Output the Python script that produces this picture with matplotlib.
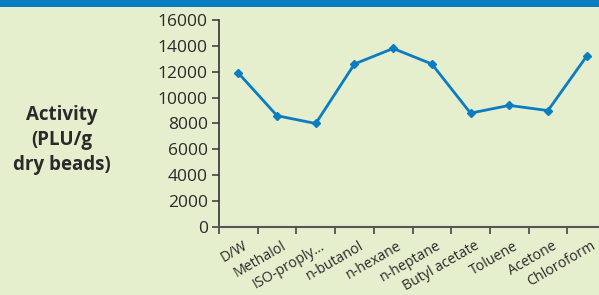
import matplotlib.pyplot as plt
from matplotlib.patches import Rectangle
from matplotlib.transforms import ScaledTranslation

solvents = ["D/W", "Methalol", "ISO-proply...", "n-butanol", "n-hexane",
            "n-heptane", "Butyl acetate", "Toluene", "Acetone", "Chloroform"]
activity = [11900, 8600, 8000, 12600, 13800, 12600, 8800, 9400, 9000, 13200]
yticks = [0, 2000, 4000, 6000, 8000, 10000, 12000, 14000, 16000]

plt.rcParams['font.family'] = ['Open Sans', 'DejaVu Sans']
bg = '#e5eecd'
blue = '#0a7cc1'
dark = '#2a2a2a'

fig = plt.figure(figsize=(5.99, 2.95), dpi=100)
fig.patch.set_facecolor(bg)
fig.patches.append(Rectangle((0, 1 - 7 / 295), 1, 7 / 295, transform=fig.transFigure,
                             facecolor=blue, edgecolor='none'))

ax = fig.add_axes([219 / 599, 1 - 227 / 295, (606 - 219) / 599, (227 - 20) / 295])
ax.set_facecolor(bg)

x = [i + 0.5 for i in range(len(solvents))]
ax.plot(x, activity, color=blue, lw=2, marker='D', ms=4.5, clip_on=False)

ax.set_xlim(0, 10)
ax.set_ylim(0, 16000)
ax.set_yticks(yticks)
ax.set_yticklabels([str(v) for v in yticks], fontsize=12.5, color=dark)

ax.set_xticks(x)
ax.set_xticklabels(solvents, rotation=30, ha='right', rotation_mode='anchor',
                   fontsize=10.2, color=dark)
ax.tick_params(axis='x', which='major', length=0, pad=9)
shift = ScaledTranslation(4 / 100, 1 / 100, fig.dpi_scale_trans)
for lab in ax.get_xticklabels():
    lab.set_transform(lab.get_transform() + shift)
ax.set_xticks(range(len(solvents)), minor=True)
ax.tick_params(axis='x', which='minor', length=5, width=1.2, color='#444444')
ax.tick_params(axis='y', length=5, width=1.2, color='#444444', pad=3)

for s in ['top', 'right']:
    ax.spines[s].set_visible(False)
ax.spines['left'].set_color('#333333')
ax.spines['bottom'].set_color('#555555')
ax.spines['left'].set_linewidth(1.2)
ax.spines['bottom'].set_linewidth(1.5)

fig.text(62 / 599, 1 - 140 / 295, "Activity\n(PLU/g\ndry beads)", ha='center', va='center',
         fontsize=13.5, fontweight='bold', color=dark, linespacing=1.35)

fig.savefig('out.png', dpi=100, facecolor=bg)
